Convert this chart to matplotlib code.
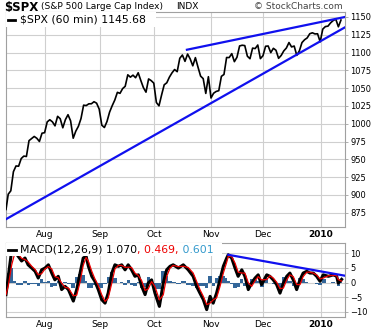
import numpy as np
import matplotlib.pyplot as plt
from matplotlib.patches import Rectangle

plt.rcParams['font.family'] = ['DejaVu Sans']

# trading sessions start on 2009-07-13 (day 0)
first_day = "2009-07-13"
holidays = ["2009-09-07", "2009-11-26", "2009-12-25", "2010-01-01"]

# $SPX closes, one per session, 2009-07-13 .. 2010-01-13
spx_open = 879.6
spx_close = [
    901.05, 905.84, 932.68, 940.74, 940.38, 951.13, 954.58, 954.07, 976.29, 979.26,
    982.18, 979.62, 975.15, 986.75, 987.48,
    1002.63, 1005.65, 1002.72, 997.08, 1010.48, 1007.10, 994.35, 1005.81, 1012.73, 1004.09,
    979.73, 989.67, 996.46, 1007.37, 1026.13, 1025.57, 1028.00, 1028.12, 1030.98, 1028.93,
    1020.62,
    998.04, 994.75, 1003.24, 1016.40, 1025.39, 1033.37, 1044.14, 1042.73, 1049.34, 1052.63,
    1068.76, 1065.49, 1068.30, 1064.66, 1071.66, 1060.87, 1050.78, 1044.38, 1062.98, 1060.61,
    1057.08,
    1029.85, 1025.21, 1040.46, 1054.72, 1057.58, 1065.48, 1071.49, 1076.19, 1073.19, 1092.02,
    1096.56, 1087.68, 1097.91, 1091.06, 1081.40, 1092.91, 1079.60, 1066.95, 1063.41, 1042.63,
    1066.11, 1036.19,
    1042.88, 1045.41, 1046.50, 1066.63, 1069.30, 1093.08, 1093.01, 1098.51, 1087.24, 1093.48,
    1109.30, 1110.32, 1109.80, 1094.90, 1091.38, 1106.24, 1105.65, 1110.63, 1091.49, 1095.63,
    1108.86, 1109.24, 1099.92, 1105.98, 1103.25, 1091.94, 1095.95, 1102.35, 1106.41, 1114.11,
    1107.93, 1109.18, 1096.08, 1102.47, 1114.05, 1118.02, 1120.59, 1126.48, 1127.78, 1126.20,
    1126.42, 1115.10,
    1132.99, 1136.52, 1137.14, 1141.69, 1144.98, 1146.98, 1136.22, 1145.68,
]

# MACD(12,26,9) on 60 min bars (x in sessions)
macd_days = [
    0.0, 0.9, 2.2, 3.4, 4.6, 6.0, 7.3, 8.5, 9.9, 11.2, 12.4, 13.7, 15.0, 16.3, 17.6, 18.8,
    20.1, 21.4, 22.7, 24.0, 25.9, 27.2, 28.5, 29.7, 30.8, 31.7, 33.0, 34.2, 35.5, 36.8,
    38.1, 39.3, 40.7, 41.9, 43.2, 44.5, 45.8, 47.0, 48.3, 49.6, 50.9, 52.2, 53.5, 54.7,
    56.0, 57.3, 59.0, 60.5, 61.8, 63.1, 64.3,
    66.3, 68.2, 70.1, 72.0, 73.3, 74.6, 75.9, 77.2, 78.5, 79.7, 81.0, 82.3, 83.6, 84.9,
    85.5, 86.8, 88.1, 89.3, 90.7, 91.9, 93.2, 94.5, 95.8, 97.0, 98.3, 100.3, 101.5, 102.8,
    104.1, 105.4, 106.7, 108.0, 109.2, 110.5, 111.8, 113.1, 114.3, 115.7, 116.9, 118.2,
    119.5, 120.8, 122.0, 124.0, 125.9, 127.2, 127.8, 129.1,
]
macd_line = [
    -4.1, 2.1, 11.0, 10.5, 9.0, 7.3, 8.3, 6.0, 4.9, 3.8, 1.5, 4.3, 4.9, 6.0, 3.2, 0.9,
    2.1, -2.4, -1.3, -2.4, -6.3, -2.4, 3.2, 8.3, 8.9, 5.5, 2.1, 0.4, -2.4, -5.8,
    -7.0, -3.6, 3.2, 6.0, 5.5, 6.0, 4.3, 6.0, 4.3, 2.1, 2.6, -1.3, -4.1, -0.2,
    0.9, -3.6, -8.1, -0.2, 4.3, 5.5, 6.0,
    4.9, 6.0, 4.3, 2.1, -1.3, -3.6, -5.8, -9.2, -4.7, -7.0, -3.6, 0.9, 5.5, 8.3,
    9.4, 8.3, 4.9, 2.1, 4.3, 2.1, -2.4, -0.2, 1.5, 2.6, -0.7, 2.6, 2.1, 0.9,
    -0.7, -3.6, -0.2, 2.1, 3.2, 0.9, -2.4, 0.9, 3.2, 3.8, 3.2, 3.2,
    2.1, 0.4, 2.6, 2.1, 2.6, 2.1, -0.2, 1.07,
]
signal_line = [
    -4.1, -1.0, 6.0, 10.0, 9.8, 8.2, 7.8, 7.0, 5.5, 4.4, 2.6, 3.0, 4.6, 5.4, 4.6, 2.0,
    1.6, -0.2, -1.6, -1.9, -4.5, -4.3, 0.2, 5.8, 8.5, 7.2, 3.8, 1.2, -1.0, -4.1,
    -6.4, -5.3, -0.2, 4.6, 5.8, 5.8, 5.1, 5.2, 5.1, 3.2, 2.4, 0.6, -2.7, -2.2,
    0.3, -1.4, -5.9, -4.2, 2.0, 4.9, 5.8,
    5.4, 5.5, 5.1, 3.2, 0.4, -2.4, -4.7, -7.5, -7.0, -5.9, -5.2, -1.4, 3.2, 6.9,
    8.9, 8.8, 6.6, 3.5, 3.2, 3.2, -0.1, -1.3, 0.6, 2.0, 0.9, 1.0, 2.3, 1.5,
    0.1, -2.1, -1.9, 0.9, 2.6, 2.0, -0.7, -0.7, 2.0, 3.5, 3.5, 3.2,
    2.6, 1.2, 1.5, 2.3, 2.4, 2.3, 1.0, 0.469,
]

# hand drawn trendlines (sessions, value)
upper_trend_x, upper_trend_y = [69.6, 130.4], [1104, 1150]
lower_trend_x, lower_trend_y = [0.0, 130.4], [866, 1135.5]
macd_trend_x, macd_trend_y = [85.5, 130.4], [9.4, 2.3]

month_starts = ["2009-08-03", "2009-09-01", "2009-10-01", "2009-11-02", "2009-12-01", "2010-01-04"]
month_labels = ["Aug", "Sep", "Oct", "Nov", "Dec", "2010"]
price_ticks = list(range(875, 1151, 25))
macd_ticks = [-10, -5, 0, 5, 10]

GRID = "#cfcfcf"
SPINE = "#a0a0a0"
BLUE = "#1010ee"
FS = 6
LEG = 7.8

fig = plt.figure(figsize=(3.83, 3.33), dpi=100)
ax = fig.add_axes([6 / 383, 1 - 227 / 333, 339 / 383, 215 / 333])
axm = fig.add_axes([6 / 383, 1 - 317 / 333, 339 / 383, 74 / 333])

month_x = np.busday_count(first_day, month_starts, holidays=holidays)

for a in (ax, axm):
    a.set_xlim(0, 130.4)
    a.set_xticks(month_x)
    a.set_xticklabels(month_labels)
    for lbl in a.get_xticklabels():
        if lbl.get_text() == "2010":
            lbl.set_fontweight("bold")
    a.tick_params(axis="x", length=0, pad=2, labelsize=6.5)
    a.yaxis.tick_right()
    a.tick_params(axis="y", length=2, width=0.6, color=SPINE, pad=2, labelsize=FS)
    a.grid(True, color=GRID, linewidth=0.8)
    a.set_axisbelow(True)
    for s in a.spines.values():
        s.set_color(SPINE)
        s.set_linewidth(0.8)

# price panel
days = np.arange(len(spx_close))
px = np.concatenate([[0.0], days + 0.85])
py = np.concatenate([[spx_open], spx_close])
ax.plot(px, py, color="black", linewidth=1.2, zorder=3)
ax.plot(upper_trend_x, upper_trend_y, color=BLUE, linewidth=1.6, zorder=4)
ax.plot(lower_trend_x, lower_trend_y, color=BLUE, linewidth=1.6, zorder=4)
ax.set_ylim(855, 1157)
ax.set_yticks(price_ticks)

ax.add_patch(Rectangle((0, 1 - 15 / 215), 150 / 339, 15 / 215, transform=ax.transAxes,
                       facecolor="white", edgecolor="none", zorder=5))
ax.plot([2 / 339, 9 / 339], [1 - 8 / 215] * 2, transform=ax.transAxes,
        color="black", linewidth=2, zorder=6)
ax.text(14 / 339, 1 - 8 / 215, "$SPX (60 min) 1145.68", transform=ax.transAxes,
        fontsize=LEG, va="center", zorder=6)

# MACD panel
mx = np.array(macd_days)
hist = np.array(macd_line) - np.array(signal_line)
axm.fill_between(mx, hist, 0, step="mid", color="#336699", linewidth=0, zorder=2)
axm.plot(mx, macd_line, color="black", linewidth=2.2, zorder=3)
axm.plot(mx, signal_line, color="#ee0000", linewidth=0.9, zorder=4)
axm.plot(macd_trend_x, macd_trend_y, color=BLUE, linewidth=1.6, zorder=5)
axm.set_ylim(-11.7, 13.4)
axm.set_yticks(macd_ticks)

axm.add_patch(Rectangle((0, 1 - 13 / 74), 216 / 339, 13 / 74, transform=axm.transAxes,
                        facecolor="white", edgecolor="none", zorder=6))
axm.plot([2 / 339, 10 / 339], [1 - 7 / 74] * 2, transform=axm.transAxes,
         color="black", linewidth=2, zorder=7)
t = axm.text(14 / 339, 1 - 7 / 74, "MACD(12,26,9) 1.070", transform=axm.transAxes,
             fontsize=LEG, va="center", zorder=7)
t = axm.annotate(", 0.469,", xy=(1, 0.5), xycoords=t, va="center", fontsize=LEG,
                 color="#ee0000", zorder=7)
axm.annotate(" 0.601", xy=(1, 0.5), xycoords=t, va="center", fontsize=LEG,
             color="#3399cc", zorder=7)

# header
fig.text(4 / 383, 1 - 1 / 333, "$SPX", fontsize=8.5, fontweight="bold", va="top")
fig.text(41 / 383, 1 - 2 / 333, "(S&P 500 Large Cap Index)", fontsize=6.5, va="top")
fig.text(176 / 383, 1 - 2 / 333, "INDX", fontsize=6.5, va="top")
fig.text(343 / 383, 1 - 2 / 333, "\u00a9 StockCharts.com", fontsize=6.5,
         color="#444444", va="top", ha="right")

fig.savefig("out.png", dpi=100)
